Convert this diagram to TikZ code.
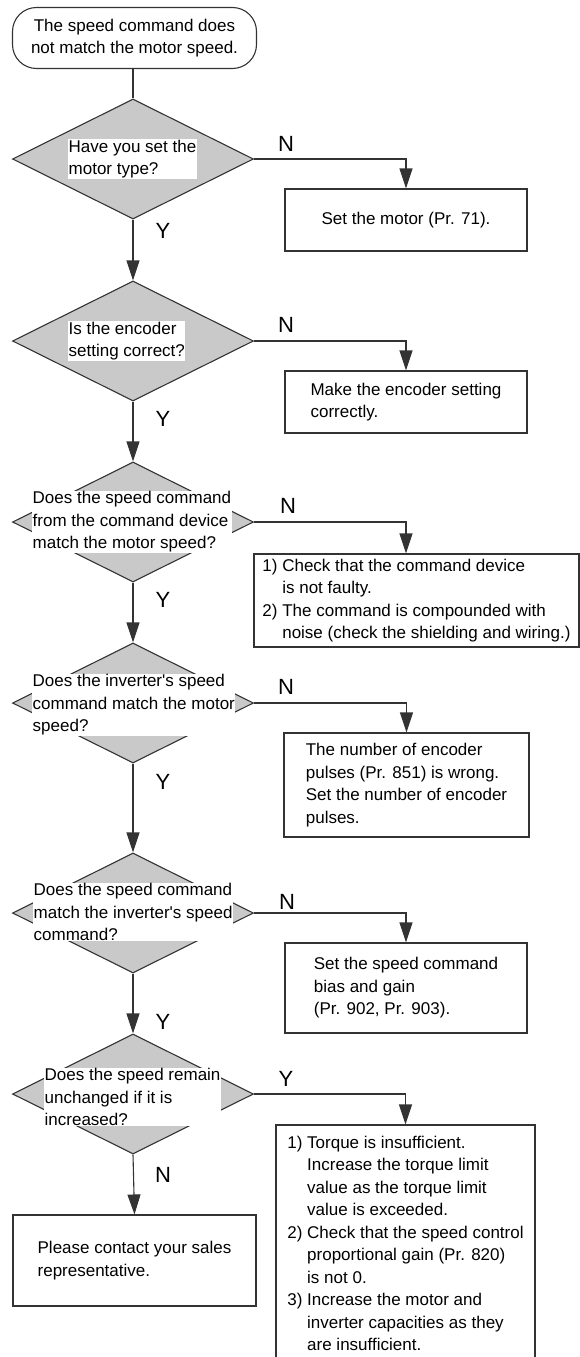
\documentclass[tikz,border=0pt]{standalone}
\usepackage{fontspec}
\setmainfont{Liberation Sans}
\usetikzlibrary{shapes.geometric,arrows.meta}
\newcommand{\retrait}{\hphantom{1)\ }}
\newcommand{\texte}{\fontsize{17}{22.5}\selectfont}
\tikzset{
  trait/.style={draw=black!80,line width=1.1pt},
  debut/.style={trait,rounded corners=24pt,minimum width=244pt,minimum height=61pt,align=center,font=\texte},
  choix/.style={trait,diamond,fill=gray!42,minimum width=241pt,minimum height=120pt,inner sep=0pt},
  question/.style={fill=white,inner sep=0.5pt,align=left,anchor=west,font=\texte},
  action/.style={trait,align=left,font=\texte},
  reponse/.style={font=\fontsize{22}{22}\selectfont},
  fleche/.style={trait,-{Triangle[length=20pt,width=13pt]}}
}
\begin{document}
\begin{tikzpicture}[x=1pt,y=-1pt]
  \useasboundingbox (0,0) rectangle (580,1357);
  \clip (0,0) rectangle (580,1357);
  \node[debut] (depart) at (134.5,38) {The speed command does\\not match the motor speed.};
  \node[choix] (q1) at (133,159) {};
  \node[question] (t1) at (68,159) {Have you set the\\motor type?};
  \node[choix] (q2) at (133,341) {};
  \node[question] (t2) at (68,341) {Is the encoder\\setting correct?};
  \node[choix] (q3) at (133,522) {};
  \node[question] (t3) at (32,522) {Does the speed command\\from the command device\\match the motor speed?};
  \node[choix] (q4) at (133,703) {};
  \node[question] (t4) at (32,705) {Does the inverter\textquotesingle s speed\\command match the motor\\speed?};
  \node[choix] (q5) at (133,913) {};
  \node[question] (t5) at (33,912) {Does the speed command\\match the inverter\textquotesingle s speed\\command?};
  \node[choix] (q6) at (133,1094) {};
  \node[question] (t6) at (44,1097) {Does the speed remain\\unchanged if it is\\increased?};

  \node[action,minimum width=242pt,minimum height=62pt] (a1) at (406,220) {Set the motor (Pr. 71).};
  \node[action,minimum width=242pt,minimum height=62pt] (a2) at (406,402) {Make the encoder setting\\correctly.};
  \node[action,minimum width=325pt,minimum height=93pt] (a3) at (416.5,600.5) {1) Check that the command device\\\retrait is not faulty.\\2) The command is compounded with\\\retrait noise (check the shielding and wiring.)};
  \node[action,minimum width=245pt,minimum height=104pt] (a4) at (406.5,785) {The number of encoder\\pulses (Pr. 851) is wrong.\\Set the number of encoder\\pulses.};
  \node[action,minimum width=242pt,minimum height=90pt] (a5) at (406,988) {Set the speed command\\bias and gain\\(Pr. 902, Pr. 903).};
  \node[action,minimum width=259pt,minimum height=237pt] (a6) at (405.5,1243.5) {1) Torque is insufficient.\\\retrait Increase the torque limit\\\retrait value as the torque limit\\\retrait value is exceeded.\\2) Check that the speed control\\\retrait proportional gain (Pr. 820)\\\retrait is not 0.\\3) Increase the motor and\\\retrait inverter capacities as they\\\retrait are insufficient.};
  \node[action,minimum width=243pt,minimum height=91pt] (fin) at (134.5,1260.5) {Please contact your sales\\representative.};

  \draw[trait] (depart.south -| q1.north) -- (q1.north);
  \draw[fleche] (q1.south) -- (q2.north);
  \draw[fleche] (q2.south) -- (q3.north);
  \draw[fleche] (q3.south) -- (q4.north);
  \draw[fleche] (q4.south) -- (q5.north);
  \draw[fleche] (q5.south) -- (q6.north);
  \draw[fleche] (q6.south) -- (fin.north);
  \draw[fleche] (q1.east) -| (a1.north);
  \draw[fleche] (q2.east) -| (a2.north);
  \draw[fleche] (q3.east) -| (a3.north -| a1.north);
  \draw[fleche] (q4.east) -| (a4.north);
  \draw[fleche] (q5.east) -| (a5.north);
  \draw[fleche] (q6.east) -| (a6.north);

  \node[reponse] (n1) at (286,144) {N};
  \node[reponse] (y1) at (163,231) {Y};
  \node[reponse] (n2) at (286,325) {N};
  \node[reponse] (y2) at (163,419) {Y};
  \node[reponse] (n3) at (288,506) {N};
  \node[reponse] (y3) at (163,600) {Y};
  \node[reponse] (n4) at (286,687) {N};
  \node[reponse] (y4) at (163,782) {Y};
  \node[reponse] (n5) at (287,902) {N};
  \node[reponse] (y5) at (163,1022) {Y};
  \node[reponse] (y6) at (286,1079) {Y};
  \node[reponse] (n6) at (163,1175) {N};
\end{tikzpicture}
\end{document}
